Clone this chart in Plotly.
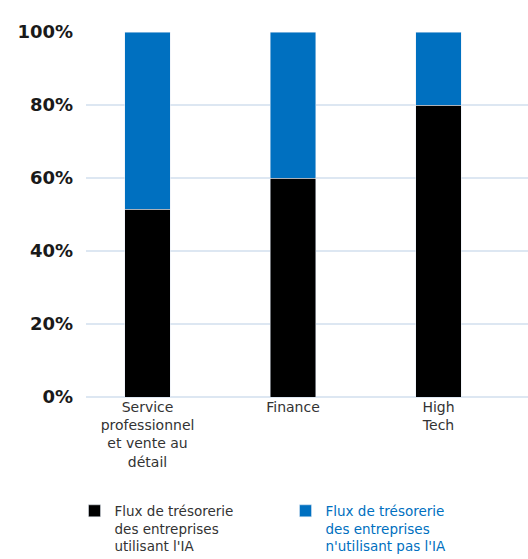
import plotly.graph_objects as go

categories = ["Service<br>professionnel<br>et vente au<br>détail", "Finance", "High<br>Tech"]
with_ai = [0.515, 0.60, 0.80]
without_ai = [0.485, 0.40, 0.20]
series_names = [
    "<span style='color:#333333'>Flux de trésorerie<br>des entreprises<br>utilisant l'IA</span>",
    "<span style='color:#0070C0'>Flux de trésorerie<br>des entreprises<br>n'utilisant pas l'IA</span>",
]
y_ticks = [0, 0.2, 0.4, 0.6, 0.8, 1.0]
y_labels = ["0%", "20%", "40%", "60%", "80%", "100%"]

fig = go.Figure()
fig.add_bar(x=categories, y=with_ai, name=series_names[0], marker_color="#000000", width=0.31)
fig.add_bar(x=categories, y=without_ai, name=series_names[1], marker_color="#0070C0", width=0.31)

fig.update_layout(
    barmode="stack",
    width=528, height=559,
    margin=dict(l=86, r=0, t=32, b=162, autoexpand=False),
    paper_bgcolor="white", plot_bgcolor="white",
    font=dict(family="DejaVu Sans", size=14, color="#333333"),
    showlegend=True,
    legend=dict(orientation="h", x=-0.026, y=-0.27, xanchor="left", yanchor="top",
                font=dict(size=13.5), entrywidth=166, entrywidthmode="pixels",
                traceorder="normal", itemwidth=30, valign="top", tracegroupgap=0),
    xaxis=dict(type="category", range=[-0.423, 2.615], showgrid=False, showline=False,
               automargin=False, tickfont=dict(size=14, color="#333333"), ticks=""),
    yaxis=dict(range=[0, 1], tickvals=y_ticks, ticktext=y_labels, showgrid=True,
               automargin=False,
               gridcolor="#dde7f2", gridwidth=1.5, zeroline=True, zerolinecolor="#dde7f2",
               zerolinewidth=1.5, ticklabelstandoff=12,
               tickfont=dict(family="DejaVu Sans", size=18, color="#1a1a1a", weight="bold")),
)
fig.write_html("out.html")
